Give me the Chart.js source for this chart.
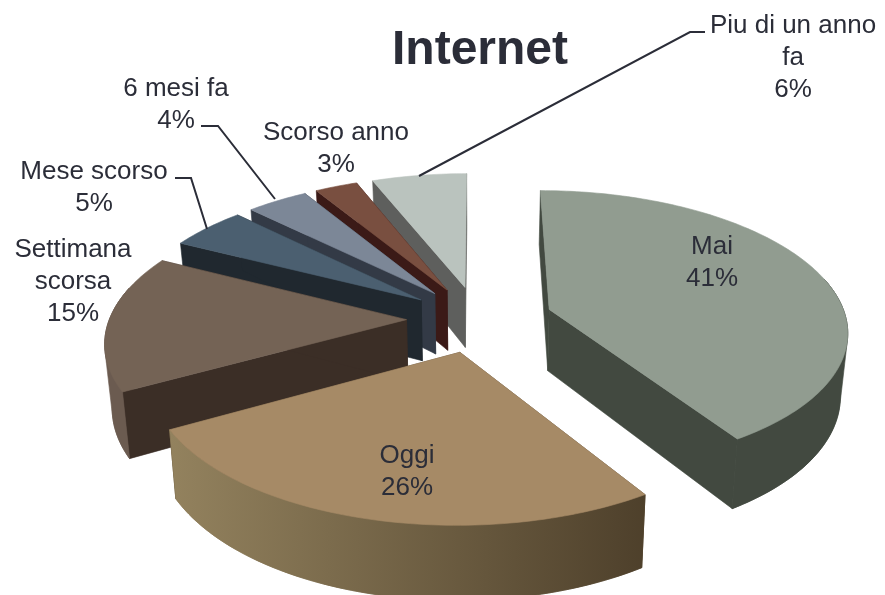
<!DOCTYPE html>
<html>
<head>
<meta charset="utf-8">
<title>Internet</title>
<script src="https://cdn.jsdelivr.net/npm/chart.js@4/dist/chart.umd.min.js"></script>
<style>
  html, body { margin: 0; padding: 0; background: #fff; }
  #wrap { width: 885px; height: 595px; }
</style>
</head>
<body>
<div id="wrap"><canvas id="pie" width="885" height="595"></canvas></div>
<script>
const categories = ['Mai', 'Oggi', 'Settimana scorsa', 'Mese scorso', '6 mesi fa', 'Scorso anno', 'Piu di un anno fa'];
const values = [41, 25.9, 15.6, 4.9, 3.9, 2.7, 6];
const explode = [66, 63, 63, 63, 63, 63, 63];

const topColors = ['#919c90', '#a68a66', '#746355', '#4b5f70', '#7c8797', '#794f40', '#bac3be'];
const edgeColors = ['#424940', '#5a4a33', '#3b2e26', '#20282f', '#333a46', '#3b1a17', '#5e5f5d'];
const wallLeft = ['#424940', '#93825e', '#6b5b50', '#20282f', '#333a46', '#3b1a17', '#5e5f5d'];
const wallRight = ['#424940', '#4e402b', '#6b5b50', '#20282f', '#333a46', '#3b1a17', '#5e5f5d'];

// wrapped label lines, centre x and first baseline for each slice
const labelLines = [['Mai', '41%'], ['Oggi', '26%'], ['Settimana', 'scorsa', '15%'], ['Mese scorso', '5%'], ['6 mesi fa', '4%'], ['Scorso anno', '3%'], ['Piu di un anno', 'fa', '6%']];
const labelX = [712, 407, 73, 94, 176, 336, 793];
const labelY = [254, 463, 257, 179, 96, 140, 33];

const leaders = [
  [[175, 178], [191, 178], [207, 229]],
  [[201, 126], [218, 126], [275, 199]],
  [[419, 176], [690, 32], [705, 32]]
];

// perspective used to lay the pie down, the underside sits a bit further from the camera
const CX = 478, CY = 319, WORLD_R = 297, DIST = 2100, TILT = 0.465, DEPTH = 62, UNDER = 0.98;
const DRAW_ORDER = [6, 5, 4, 3, 2, 0, 1];

function project(u, v, h) {
  const w = DIST / (DIST - v);
  const k = h ? UNDER : 1;
  return [CX + u * w * k, CY + (v * TILT + h) * w];
}

function fillPoly(ctx, pts, color) {
  ctx.beginPath();
  pts.forEach((p, i) => i ? ctx.lineTo(p[0], p[1]) : ctx.moveTo(p[0], p[1]));
  ctx.closePath();
  ctx.fillStyle = color;
  ctx.strokeStyle = color;
  ctx.lineWidth = 0.6;
  ctx.fill();
  ctx.stroke();
}

// monotone chain, gives the wall a smooth outline between top rim and bottom rim
function hull(pts) {
  const sorted = pts.slice().sort((a, b) => a[0] - b[0] || a[1] - b[1]);
  const cross = (o, a, b) => (a[0] - o[0]) * (b[1] - o[1]) - (a[1] - o[1]) * (b[0] - o[0]);
  const half = list => {
    const out = [];
    list.forEach(p => {
      while (out.length > 1 && cross(out[out.length - 2], out[out.length - 1], p) <= 0) out.pop();
      out.push(p);
    });
    out.pop();
    return out;
  };
  return [...half(sorted), ...half(sorted.slice().reverse())];
}

function drawSlice(ctx, arc, i) {
  const { startAngle, endAngle, outerRadius } = arc;
  const scale = 300 / outerRadius;
  const mid = (startAngle + endAngle) / 2;
  const ax = Math.cos(mid) * arc.options.offset * scale;
  const ay = Math.sin(mid) * arc.options.offset * scale;
  const steps = Math.max(4, Math.ceil((endAngle - startAngle) / 0.02));

  const rim = [];
  for (let s = 0; s <= steps; s++) {
    const a = startAngle + (endAngle - startAngle) * s / steps;
    rim.push([ax + Math.cos(a) * WORLD_R, ay + Math.sin(a) * WORLD_R, a]);
  }
  const top = rim.map(p => project(p[0], p[1], 0));
  const bottom = rim.map(p => project(p[0], p[1], DEPTH));
  const apexTop = project(ax, ay, 0);
  const apexBottom = project(ax, ay, DEPTH);

  // outer wall, the part above the widest point ends up hidden under the top face
  const facing = [];
  for (let s = 0; s <= steps; s++) {
    if (Math.sin(rim[s][2]) >= -0.25) facing.push(s);
  }
  let grad = null;
  if (facing.length > 1) {
    const xs = facing.map(s => top[s][0]);
    grad = ctx.createLinearGradient(Math.min(...xs), 0, Math.max(...xs), 0);
    grad.addColorStop(0, wallLeft[i]);
    grad.addColorStop(1, wallRight[i]);
    fillPoly(ctx, hull([...facing.map(s => top[s]), ...facing.map(s => bottom[s])]), grad);
  }

  // the two cut faces
  fillPoly(ctx, [apexTop, top[0], bottom[0], apexBottom], edgeColors[i]);
  fillPoly(ctx, [apexTop, top[steps], bottom[steps], apexBottom], edgeColors[i]);

  // wall strip again, so it sits in front of the cut faces
  if (grad) {
    fillPoly(ctx, [...facing.map(s => top[s]), ...facing.slice().reverse().map(s => bottom[s])], grad);
  }

  fillPoly(ctx, [apexTop, ...top], arc.options.backgroundColor);
}

const pie3d = {
  id: 'pie3d',
  beforeDatasetsDraw(chart) {
    const ctx = chart.ctx;
    const arcs = chart.getDatasetMeta(0).data;
    ctx.save();
    ctx.lineJoin = 'round';
    DRAW_ORDER.forEach(i => drawSlice(ctx, arcs[i], i));
    ctx.restore();
    return false;
  },
  afterDraw(chart) {
    const ctx = chart.ctx;
    ctx.save();

    ctx.strokeStyle = '#2b2d38';
    ctx.lineWidth = 2;
    leaders.forEach(pts => {
      ctx.beginPath();
      pts.forEach((p, i) => i ? ctx.lineTo(p[0], p[1]) : ctx.moveTo(p[0], p[1]));
      ctx.stroke();
    });

    ctx.fillStyle = '#2b2d38';
    ctx.textAlign = 'center';
    ctx.textBaseline = 'alphabetic';
    ctx.font = 'bold 48px "Liberation Sans"';
    ctx.fillText('Internet', 480, 64);

    ctx.font = '26px "Liberation Sans"';
    labelLines.forEach((lines, i) => {
      lines.forEach((line, j) => ctx.fillText(line, labelX[i], labelY[i] + j * 32));
    });
    ctx.restore();
  }
};

new Chart(document.getElementById('pie'), {
  type: 'pie',
  data: {
    labels: categories,
    datasets: [{
      data: values,
      backgroundColor: topColors,
      borderWidth: 0,
      offset: explode
    }]
  },
  options: {
    responsive: false,
    animation: false,
    events: [],
    plugins: {
      legend: { display: false },
      tooltip: { enabled: false }
    }
  },
  plugins: [pie3d]
});
</script>
</body>
</html>
